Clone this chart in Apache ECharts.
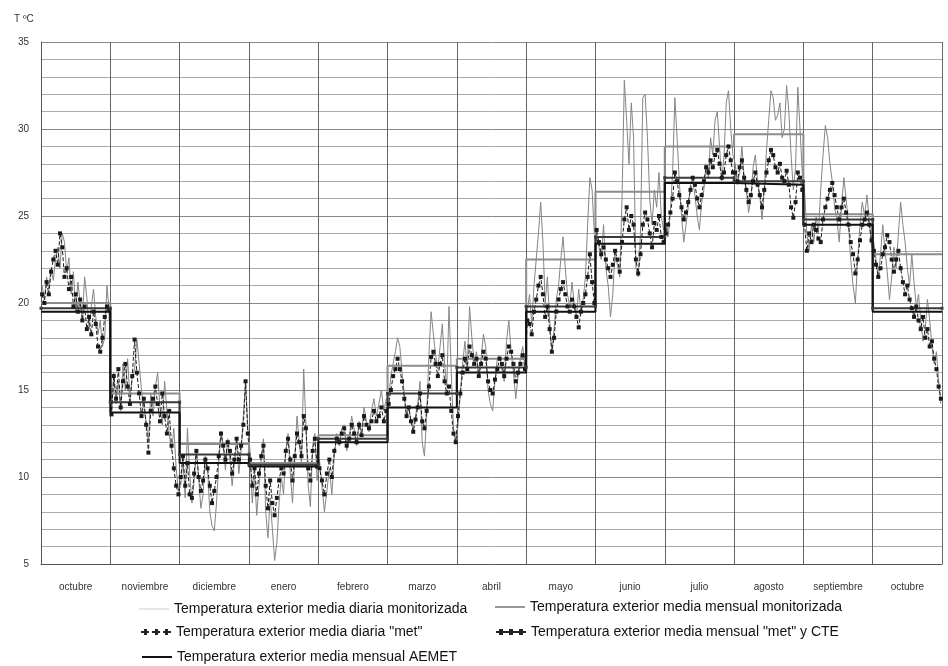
<!DOCTYPE html>
<html><head><meta charset="utf-8">
<script src="https://cdn.jsdelivr.net/npm/echarts@6/dist/echarts.min.js"></script>
<style>html,body{margin:0;padding:0;background:#fff}#c{width:948px;height:666px}</style>
</head><body><div id="c"></div>
<script>
const months = ['octubre','noviembre','diciembre','enero','febrero','marzo','abril','mayo','junio','julio','agosto','septiembre','octubre'];
const yTicks = [5,10,15,20,25,30,35];
const seriesNames = [
  'Temperatura exterior media diaria monitorizada',
  'Temperatura exterior media mensual monitorizada',
  'Temperatura exterior media diaria "met"',
  'Temperatura exterior media mensual "met" y CTE',
  'Temperatura exterior media mensual AEMET'
];
// daily monitorised values, one array per month
const dailyMon = [
 [21.0,20.2,21.5,20.8,22.0,21.3,22.5,23.2,22.0,24.0,23.5,21.8,22.6,20.5,21.8,19.5,21.2,20.0,19.0,21.5,20.3,18.5,19.8,20.8,19.2,18.2,19.0,17.5,18.0,21.0,19.5],
 [13.5,16.0,14.2,15.5,13.8,16.5,15.0,16.8,14.5,15.8,16.2,17.9,16.5,15.0,14.0,13.2,12.0,14.8,13.5,15.2,16.0,14.0,13.0,15.5,13.8,12.5,11.5,12.8,10.5,9.2],
 [9.5,11.0,8.8,12.8,10.2,8.5,9.8,11.5,10.0,8.2,9.0,11.2,10.5,8.0,7.2,6.9,8.5,10.8,12.6,11.8,10.4,12.2,11.0,9.5,10.8,12.0,10.2,11.5,13.5,15.5,12.8],
 [11.5,8.5,10.2,7.8,9.5,11.0,12.2,8.0,6.5,8.8,7.0,5.2,6.2,8.5,10.0,9.0,11.5,12.5,10.2,8.5,11.0,13.5,12.0,10.8,16.2,13.0,9.5,8.3,11.8,12.5,9.8],
 [11.0,9.5,8.0,9.2,10.5,9.0,11.2,12.5,11.8,12.8,13.0,11.5,12.2,13.5,12.8,11.8,13.2,12.5,14.0,13.2,12.6,13.8,14.5,13.5,14.2,15.0,13.8,14.5],
 [14.5,15.8,16.5,17.2,18.0,17.5,16.0,14.8,13.5,14.0,13.2,12.8,13.5,14.2,15.5,12.0,11.2,13.5,17.0,19.5,18.2,17.0,16.2,17.5,18.8,16.5,15.2,19.8,16.0,12.8,12.0],
 [13.0,14.8,16.5,17.8,16.2,19.8,18.0,16.5,17.2,15.8,16.8,18.2,17.5,15.0,14.2,13.8,15.5,16.8,17.0,16.2,15.5,17.8,19.0,17.2,16.0,14.5,15.8,16.8,17.5,16.5],
 [19.5,20.5,18.8,21.0,22.5,24.0,25.8,23.5,20.0,21.5,19.0,17.2,18.5,20.2,21.0,22.5,23.8,22.0,20.5,19.8,21.2,20.0,19.2,20.8,19.5,20.2,21.5,24.5,27.2,26.5,24.0],
 [24.0,23.2,22.5,24.5,22.0,21.0,19.2,20.5,23.0,22.2,21.5,26.0,32.8,30.5,28.0,31.5,29.5,22.0,21.5,24.0,31.8,32.0,29.5,26.0,24.5,26.5,25.5,27.5,25.0,24.2],
 [24.5,23.8,25.2,27.5,31.8,29.5,27.0,25.0,23.5,24.5,25.5,26.8,27.0,26.2,25.0,24.2,25.8,26.5,28.0,27.2,29.5,28.5,30.5,31.0,29.0,27.0,28.5,31.5,32.2,30.0,28.5],
 [28.0,26.8,27.5,29.0,27.2,26.5,25.2,26.0,27.8,28.5,27.0,26.2,24.8,26.5,28.8,30.5,32.2,31.8,30.5,30.8,31.5,29.5,30.0,32.5,31.0,28.5,26.5,27.8,32.4,30.0,27.5],
 [26.5,24.0,23.0,24.5,23.5,25.0,24.0,26.5,28.5,30.2,29.5,28.0,27.0,25.5,24.8,23.5,25.5,27.2,26.0,24.5,22.5,21.0,20.0,22.5,24.5,25.8,25.0,26.2,24.8,23.2],
 [23.5,22.5,21.5,22.8,24.5,23.0,21.8,20.2,21.5,23.2,22.0,24.0,25.8,24.5,23.5,22.0,21.0,22.8,21.2,19.8,20.5,19.0,17.8,18.5,20.2,19.0,17.5,16.5,17.2,15.5,14.2]
];
// daily "met" values, one array per month
const dailyMet = [
 [20.5,20.0,21.2,20.5,21.8,22.5,23.0,22.2,24.0,23.2,21.5,22.0,20.8,21.5,19.8,20.5,19.5,20.2,19.0,19.8,18.5,19.2,18.2,19.5,18.8,17.5,17.2,18.0,19.2,19.8,19.6],
 [13.6,15.8,14.5,16.2,14.0,15.5,16.5,15.2,14.2,15.8,17.9,16.0,14.8,13.5,14.5,13.0,11.4,13.8,14.5,15.2,14.2,13.2,14.8,13.5,12.5,13.8,11.8,10.5,9.5,9.0],
 [10.0,11.2,9.5,10.8,9.0,8.8,10.2,11.5,10.0,9.2,9.8,11.0,10.5,9.5,8.5,9.2,10.0,11.2,12.5,11.8,11.0,12.0,11.5,10.2,11.0,12.2,11.0,11.8,13.0,15.5,12.5],
 [11.0,9.5,10.5,9.0,10.2,11.2,11.8,9.5,8.2,9.8,8.5,7.8,8.8,9.8,10.5,10.2,11.5,12.2,11.0,9.8,11.2,12.5,12.0,11.2,13.5,12.8,10.5,9.8,11.5,12.2,10.6],
 [10.5,9.8,9.0,10.2,11.0,10.0,11.5,12.2,12.0,12.5,12.8,11.8,12.2,13.0,12.5,12.0,13.0,12.4,13.5,13.0,12.8,13.2,13.8,13.2,13.5,14.0,13.2,13.8],
 [14.2,15.0,15.8,16.2,16.8,16.2,15.5,14.5,13.5,14.0,13.2,12.6,13.3,14.0,14.8,13.2,12.8,13.8,15.2,16.9,17.2,16.5,15.8,16.5,17.0,15.5,14.8,15.2,13.8,12.5,12.0],
 [13.5,14.8,16.0,16.8,16.2,17.5,17.0,16.5,16.8,15.8,16.5,17.2,16.8,15.5,15.0,14.8,15.6,16.2,16.8,16.5,15.8,16.8,17.5,17.2,16.5,15.5,16.0,16.5,17.0,16.2],
 [19.0,18.8,18.2,19.5,20.2,21.0,21.5,20.5,19.2,19.8,18.5,17.2,18.0,19.5,20.2,20.8,21.2,20.5,19.8,19.5,20.2,19.8,19.2,18.6,19.5,20.0,20.5,21.5,22.8,21.2,20.0],
 [24.2,23.5,22.8,23.2,22.5,22.0,21.5,22.2,23.0,22.5,21.8,23.5,24.8,25.5,24.2,25.0,24.5,22.5,21.7,22.8,24.5,25.2,24.8,24.0,23.2,24.6,24.2,25.0,23.8,23.5],
 [24.0,24.5,25.2,26.0,27.5,27.0,26.2,25.5,24.8,25.2,25.8,26.5,27.2,26.8,26.0,25.5,26.2,27.0,27.8,27.5,28.2,27.8,28.5,28.8,28.0,27.2,27.5,28.5,29.0,28.2,27.5],
 [27.5,27.0,27.8,28.2,27.2,26.5,25.8,26.2,27.0,27.5,26.8,26.2,25.5,26.5,27.5,28.2,28.8,28.5,27.8,27.5,28.0,27.2,27.0,27.6,26.8,25.5,24.9,25.8,27.5,27.2,26.5],
 [24.5,23.0,24.0,23.5,24.5,24.2,23.7,23.5,24.8,25.5,26.0,26.5,26.9,26.2,25.5,24.8,25.5,26.0,25.2,24.5,23.5,22.8,21.7,22.5,23.6,24.5,24.8,25.2,24.5,23.6],
 [23.0,22.2,21.5,22.0,22.8,23.2,23.9,23.5,22.5,21.8,22.5,23.0,22.0,21.2,20.5,21.0,20.2,19.7,19.2,19.8,19.0,18.5,19.2,18.0,18.5,17.5,17.8,16.8,16.2,15.2,14.5]
];
const monthlyMon   = [20.0,14.8,11.9,10.8,12.4,16.4,16.8,22.5,26.4,29.0,29.7,25.1,22.8];
const monthlyMet   = [19.7,14.3,11.3,10.7,12.2,14.8,16.3,19.8,23.8,27.2,27.0,24.8,19.7];
const monthlyAemet = [19.5,13.7,10.8,10.6,12.0,14.0,16.0,19.5,23.4,26.9,26.8,24.5,19.5];

function dailyPoints(arr){
  const out=[];
  arr.forEach((mArr,m)=>{const n=mArr.length;mArr.forEach((v,d)=>out.push([m+(d+0.5)/n,v]));});
  return out;
}
function stepPoints(arr){
  const out=[];
  arr.forEach((v,m)=>{out.push([m,v]);out.push([m+1,v]);});
  return out;
}
const chart = echarts.init(document.getElementById('c'));
const font = 'Liberation Sans, Arial, sans-serif';
const ICON_MARK = 'path://M0,3H30V5H0Z M3,1H7V7H3Z M13,1H17V7H13Z M23,1H27V7H23Z';
const ICON_DASH = 'path://M0,3H8V5H0Z M11,3H19V5H11Z M22,3H30V5H22Z M3,1H6V7H3Z M14,1H17V7H14Z M24,1H27V7H24Z';
function lg(name, icon, color, h, left, top){
  return {data:[{name:name, icon:icon, itemStyle:{color:color}}], left:left, top:top,
    itemWidth:30, itemHeight:h, padding:0,
    textStyle:{fontSize:14, color:'#111', fontFamily:font, lineHeight:16}};
}
chart.setOption({
  animation:false,
  backgroundColor:'#fff',
  title:{text:'T ºC', left:9, top:9, textStyle:{fontSize:10, fontWeight:'normal', color:'#333', fontFamily:font}},
  grid:{left:41, right:6, top:42, bottom:102, containLabel:false},
  legend:[
    lg(seriesNames[0],'rect','#cfcfcf',1,139,601),
    lg(seriesNames[1],'rect','#999999',2,495,599),
    lg(seriesNames[2],ICON_DASH,'#222',7,141,624),
    lg(seriesNames[3],ICON_MARK,'#222',7,496,624),
    lg(seriesNames[4],'rect','#111',2,142,649)
  ],
  xAxis:[
    {type:'category', data:months, boundaryGap:true, position:'bottom',
     axisLine:{show:true, lineStyle:{color:'#555'}}, axisTick:{show:false},
     axisLabel:{fontSize:10, color:'#333', margin:18, fontFamily:font, interval:0},
     splitLine:{show:false}},
    {type:'value', min:0, max:13, interval:1, show:true, position:'bottom',
     axisLine:{show:false}, axisTick:{show:false}, axisLabel:{show:false},
     splitLine:{show:true, lineStyle:{color:'#666', width:1}}}
  ],
  yAxis:{type:'value', min:5, max:35, interval:5,
    axisLine:{show:true, lineStyle:{color:'#555'}}, axisTick:{show:false},
    axisLabel:{fontSize:10, color:'#333', margin:12, fontFamily:font},
    splitLine:{show:true, lineStyle:{color:'#888', width:1}},
    minorTick:{show:false, splitNumber:5},
    minorSplitLine:{show:true, lineStyle:{color:'#aaa', width:1}}},
  series:[
    {name:seriesNames[0], type:'line', xAxisIndex:1, data:dailyPoints(dailyMon),
     symbol:'none', lineStyle:{color:'#858585', width:1}, itemStyle:{color:'#cfcfcf'}},
    {name:seriesNames[2], type:'line', xAxisIndex:1, data:dailyPoints(dailyMet),
     symbol:'rect', symbolSize:4, lineStyle:{color:'#1a1a1a', width:1, type:'dashed'},
     itemStyle:{color:'#1a1a1a'}},
    {name:seriesNames[1], type:'line', xAxisIndex:1, data:stepPoints(monthlyMon),
     symbol:'none', lineStyle:{color:'#8c8c8c', width:2}, itemStyle:{color:'#999'}},
    {name:seriesNames[3], type:'line', xAxisIndex:1, data:stepPoints(monthlyMet),
     symbol:'rect', symbolSize:3, lineStyle:{color:'#3a3a3a', width:2}, itemStyle:{color:'#3a3a3a'}},
    {name:seriesNames[4], type:'line', xAxisIndex:1, data:stepPoints(monthlyAemet),
     symbol:'none', lineStyle:{color:'#111', width:2}, itemStyle:{color:'#111'}}
  ]
});
</script></body></html>
